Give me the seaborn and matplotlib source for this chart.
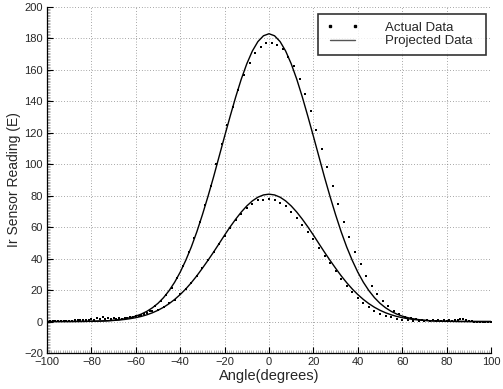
import numpy as np
import pandas as pd
import matplotlib
matplotlib.use("Agg")
import matplotlib.pyplot as plt
from matplotlib.lines import Line2D
from matplotlib.ticker import MultipleLocator
import seaborn as sns

# ---- data ----
x_large = [-98.75, -96.25, -93.75, -91.25, -88.75, -86.25, -83.75, -81.25, -78.75, -76.25,
           -73.75, -71.25, -68.75, -66.25, -63.75, -61.25, -58.75, -56.25, -53.75, -51.25,
           -48.75, -46.25, -43.75, -41.25, -38.75, -36.25, -33.75, -31.25, -28.75, -26.25,
           -23.75, -21.25, -18.75, -16.25, -13.75, -11.25, -8.75, -6.25, -3.75, -1.25,
           1.25, 3.75, 6.25, 8.75, 11.25, 13.75, 16.25, 18.75, 21.25, 23.75,
           26.25, 28.75, 31.25, 33.75, 36.25, 38.75, 41.25, 43.75, 46.25, 48.75,
           51.25, 53.75, 56.25, 58.75, 61.25, 63.75, 66.25, 68.75, 71.25, 73.75,
           76.25, 78.75, 81.25, 83.75, 86.25, 88.75, 91.25, 93.75, 96.25, 98.75]
actual_large = [0.3, 0.5, 0.4, 0.6, 0.5, 0.8, 0.7, 1.0, 1.2, 1.5,
                1.6, 1.4, 1.5, 1.8, 2.3, 2.9, 3.6, 4.8, 7.0, 10.0,
                13.2, 17.0, 21.5, 28.0, 35.0, 44.0, 53.0, 63.5, 74.0, 86.5,
                100.0, 113.0, 124.7, 136.5, 147.2, 156.7, 164.5, 171.0, 174.5, 176.8,
                177.2, 176.0, 173.0, 168.5, 162.5, 154.0, 144.5, 134.0, 122.0, 110.0,
                98.0, 86.0, 74.5, 63.5, 53.5, 44.5, 36.3, 29.0, 22.7, 17.4,
                13.2, 10.0, 6.5, 4.5, 3.0, 2.2, 1.6, 1.2, 1.2, 1.0,
                0.8, 0.8, 1.0, 1.2, 1.5, 1.2, 0.3, 0.0, -0.2, 0.0]

x_small = [-100.0, -97.5, -95.0, -92.5, -90.0, -87.5, -85.0, -82.5, -80.0, -77.5,
           -75.0, -72.5, -70.0, -67.5, -65.0, -62.5, -60.0, -57.5, -55.0, -52.5,
           -50.0, -47.5, -45.0, -42.5, -40.0, -37.5, -35.0, -32.5, -30.0, -27.5,
           -25.0, -22.5, -20.0, -17.5, -15.0, -12.5, -10.0, -7.5, -5.0, -2.5,
           0.0, 2.5, 5.0, 7.5, 10.0, 12.5, 15.0, 17.5, 20.0, 22.5,
           25.0, 27.5, 30.0, 32.5, 35.0, 37.5, 40.0, 42.5, 45.0, 47.5,
           50.0, 52.5, 55.0, 57.5, 60.0, 62.5, 65.0, 67.5, 70.0, 72.5,
           75.0, 77.5, 80.0, 82.5, 85.0, 87.5, 90.0, 92.5, 95.0, 97.5, 100.0]
actual_small = [0.2, 0.4, 0.3, 0.5, 0.6, 0.8, 1.0, 1.3, 1.6, 2.2,
                2.6, 2.4, 2.0, 2.0, 2.2, 2.6, 3.5, 4.4, 5.5, 6.5,
                7.2, 9.0, 11.8, 14.0, 17.2, 21.0, 24.5, 29.0, 34.3, 39.0,
                44.5, 49.5, 54.5, 59.3, 64.5, 68.5, 72.5, 75.0, 77.0, 77.6,
                78.0, 77.1, 75.5, 73.4, 69.7, 66.0, 61.5, 57.2, 52.3, 47.0,
                41.7, 37.5, 32.0, 26.8, 22.5, 18.5, 15.0, 11.5, 9.3, 6.8,
                5.0, 3.6, 2.6, 1.8, 1.2, 0.8, 0.6, 0.5, 0.4, 0.3,
                0.3, 0.3, 0.4, 0.6, 1.2, 1.4, 0.6, -0.3, -0.5, -0.4, -0.5]

x_proj = x_small
projected_large = [0.0, 0.0, 0.01, 0.01, 0.02, 0.04, 0.06, 0.10, 0.16, 0.24,
                   0.37, 0.56, 0.82, 1.21, 1.74, 2.47, 3.46, 4.77, 6.51, 8.76,
                   11.6, 15.2, 19.65, 25.0, 31.4, 38.9, 47.4, 57.1, 67.9, 79.5,
                   91.8, 104.8, 117.8, 130.5, 142.8, 154.1, 163.9, 172.0, 178.0, 181.7,
                   183.0, 181.7, 178.0, 172.0, 163.9, 154.1, 142.8, 130.5, 117.8, 104.8,
                   91.8, 79.5, 67.9, 57.1, 47.4, 38.9, 31.4, 25.0, 19.65, 15.2,
                   11.6, 8.76, 6.51, 4.77, 3.46, 2.47, 1.74, 1.21, 0.82, 0.56,
                   0.37, 0.24, 0.16, 0.10, 0.06, 0.04, 0.02, 0.01, 0.01, 0.0, 0.0]
projected_small = [0.0, 0.01, 0.01, 0.02, 0.03, 0.05, 0.07, 0.11, 0.16, 0.24,
                   0.34, 0.49, 0.70, 0.97, 1.34, 1.83, 2.46, 3.27, 4.30, 5.58,
                   7.16, 9.07, 11.36, 14.05, 17.16, 20.7, 24.7, 29.1, 33.9, 38.9,
                   44.1, 49.5, 54.96, 60.2, 65.1, 69.6, 73.5, 76.7, 79.06, 80.5,
                   81.0, 80.5, 79.06, 76.7, 73.5, 69.6, 65.1, 60.2, 54.96, 49.5,
                   44.1, 38.9, 33.9, 29.1, 24.7, 20.7, 17.16, 14.05, 11.36, 9.07,
                   7.16, 5.58, 4.30, 3.27, 2.46, 1.83, 1.34, 0.97, 0.70, 0.49,
                   0.34, 0.24, 0.16, 0.11, 0.07, 0.05, 0.03, 0.02, 0.01, 0.01, 0.0]

x_ticks = [-100, -80, -60, -40, -20, 0, 20, 40, 60, 80, 100]
y_ticks = [-20, 0, 20, 40, 60, 80, 100, 120, 140, 160, 180, 200]

# ---- styling ----
sns.set_style("white")
plt.rcParams['font.family'] = ['Liberation Sans', 'DejaVu Sans']
plt.rcParams['axes.unicode_minus'] = True

fig = plt.figure(figsize=(5.03, 3.89), dpi=100)
ax = fig.add_axes([47 / 503, 1 - 353 / 389, (491 - 47) / 503, (353 - 7) / 389])

df_act = pd.DataFrame({
    "x": x_large + x_small,
    "y": actual_large + actual_small,
})
df_proj = pd.DataFrame({
    "x": x_proj + x_proj,
    "y": projected_large + projected_small,
    "series": ["large"] * len(x_proj) + ["small"] * len(x_proj),
})

sns.lineplot(data=df_proj, x="x", y="y", units="series", estimator=None,
             color="black", linewidth=1.0, ax=ax, legend=False, sort=False)
sns.scatterplot(data=df_act, x="x", y="y", color="black", s=2.6, marker="s",
                linewidth=0, ax=ax, legend=False, zorder=3)

ax.set_xlim(-100, 100)
ax.set_ylim(-20, 200)
ax.set_xticks(x_ticks)
ax.set_yticks(y_ticks)
ax.xaxis.set_minor_locator(MultipleLocator(1))
ax.yaxis.set_minor_locator(MultipleLocator(1))
ax.tick_params(which="major", direction="in", length=4, width=0.8, color="black",
               labelsize=8, pad=3, top=False, right=False, bottom=True, left=True)
ax.tick_params(which="minor", direction="in", length=2, width=0.4, color="#777777",
               top=False, right=False, bottom=True, left=True)
ax.grid(True, which="major", linestyle=(0, (1, 3)), linewidth=0.5, color="#555555")
for side in ["top", "right"]:
    ax.spines[side].set_visible(False)
for side in ["left", "bottom"]:
    ax.spines[side].set_color("black")
    ax.spines[side].set_linewidth(0.9)

ax.set_xlabel("Angle(degrees)", fontsize=10.5, labelpad=1)
ax.set_ylabel("Ir Sensor Reading (E)", fontsize=10, labelpad=2)

handles = [
    Line2D([], [], color="black", marker="s", markersize=1.6, linestyle="none"),
    Line2D([], [], color="#555555", linewidth=1.0),
]
leg = ax.legend(handles, ["Actual Data", "Projected Data"], loc="upper left",
                bbox_to_anchor=(318 / 503, 1 - 55 / 389, 168 / 503, 41 / 389),
                bbox_transform=fig.transFigure, mode="expand",
                numpoints=2, fontsize=9.5, frameon=True, fancybox=False,
                borderpad=0.58, handlelength=2.5, handletextpad=2.0,
                labelspacing=0.1, borderaxespad=0)
leg.get_frame().set_edgecolor("black")
leg.get_frame().set_linewidth(1.2)

fig.savefig("out.png", dpi=100)
